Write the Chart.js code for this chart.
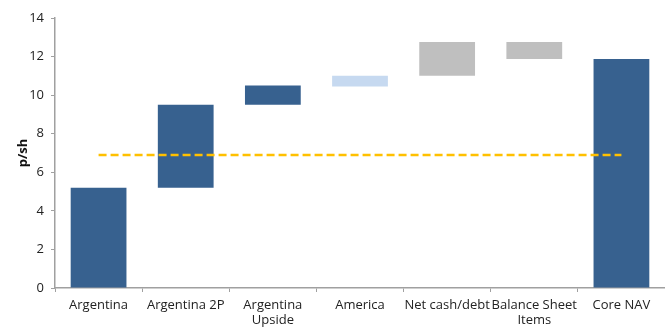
<!DOCTYPE html>
<html>
<head>
<meta charset="utf-8">
<script src="https://cdn.jsdelivr.net/npm/chart.js@4/dist/chart.umd.min.js"></script>
<style>
  html, body { margin: 0; padding: 0; background: #fff; }
  #wrap { width: 665px; height: 329px; position: relative; }
</style>
</head>
<body>
<div id="wrap"><canvas id="c"></canvas></div>
<script>
// NAV bridge categories (multi-line labels as arrays)
const categories = ['Argentina', 'Argentina 2P', ['Argentina', 'Upside'], 'America', 'Net cash/debt', ['Balance Sheet', 'Items'], 'Core NAV'];
// Floating bar ranges, p/sh: [start, end]
const barStart = [0, 5.2, 9.5, 10.45, 11.0, 11.87, 0];
const barEnd   = [5.2, 9.5, 10.5, 11.0, 12.75, 12.75, 11.87];
const barColors = ['#37618F', '#37618F', '#37618F', '#C6D9F0', '#BFBFBF', '#BFBFBF', '#37618F'];
// Share price reference level, p/sh
const sharePrice = 6.9;
const yTicks = [0, 2, 4, 6, 8, 10, 12, 14];

const FONT = '"Open Sans", "DejaVu Sans", sans-serif';

new Chart(document.getElementById('c'), {
  data: {
    labels: categories,
    datasets: [
      {
        type: 'line',
        data: categories.map(() => sharePrice),
        borderColor: '#FFC000',
        borderWidth: 2.5,
        borderDash: [8, 4],
        pointRadius: 0,
        fill: false,
        order: 0
      },
      {
        type: 'bar',
        data: barStart.map((s, i) => [s, barEnd[i]]),
        backgroundColor: barColors,
        borderWidth: 0,
        categoryPercentage: 1,
        barPercentage: 0.64,
        order: 1
      }
    ]
  },
  options: {
    responsive: true,
    maintainAspectRatio: false,
    animation: false,
    layout: { padding: { top: 18, right: 0, left: 0, bottom: 0 } },
    plugins: { legend: { display: false }, tooltip: { enabled: false } },
    scales: {
      x: {
        offset: true,
        grid: { display: true, drawOnChartArea: false, drawTicks: true, tickLength: 4, color: '#A0A0A0', offset: true },
        border: { color: '#A0A0A0', width: 1.5 },
        ticks: { color: '#222', font: { family: FONT, size: 13, lineHeight: 1.2 }, padding: 5, maxRotation: 0, autoSkip: false },
        afterFit: (s) => { s.height = 41; }
      },
      y: {
        min: 0, max: 14,
        afterBuildTicks: (s) => { s.ticks = yTicks.map(v => ({ value: v })); },
        grid: { display: true, drawOnChartArea: false, drawTicks: true, tickLength: 4, color: '#A0A0A0' },
        border: { color: '#A0A0A0', width: 1.5 },
        ticks: { color: '#222', font: { family: FONT, size: 13 }, padding: 7 },
        title: { display: true, text: 'p/sh', color: '#111', font: { family: FONT, size: 13, weight: 'bold' }, padding: { top: 15, bottom: 0 } },
        afterFit: (s) => { s.width = 55; }
      }
    }
  }
});
</script>
</body>
</html>
